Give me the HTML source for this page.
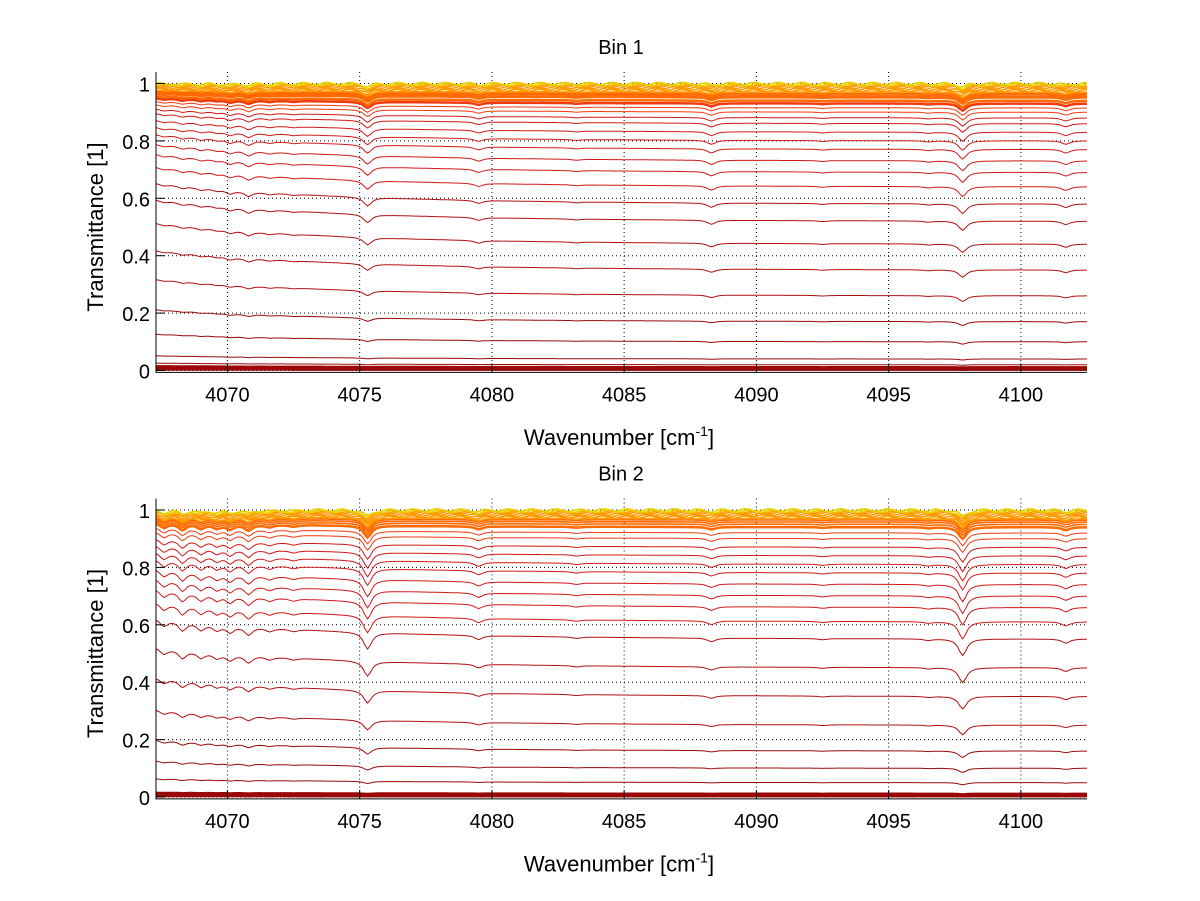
<!DOCTYPE html>
<html><head><meta charset="utf-8">
<style>
html,body{margin:0;padding:0;background:#fff;}
svg{display:block;font-family:"Liberation Sans",sans-serif;}
</style></head>
<body>
<svg id="fig" width="1200" height="901" viewBox="0 0 1200 901" xmlns="http://www.w3.org/2000/svg"></svg>
<script>
// ---- data ----
const xTicks = [4070, 4075, 4080, 4085, 4090, 4095, 4100];
const yTicks = [0, 0.2, 0.4, 0.6, 0.8, 1];
const yTickLabels = ["0", "0.2", "0.4", "0.6", "0.8", "1"];
const titles = ["Bin 1", "Bin 2"];
// baseline transmittance of each spectrum at the right end
const baselines1 = [0.002,0.005,0.008,0.012,0.02,0.04,0.1,0.17,0.26,0.35,0.44,0.52,0.58,0.64,0.69,0.73,0.77,0.80,0.83,0.86,0.88,0.90,0.915,0.93,0.94,0.95,0.955,0.96,0.965,0.97,0.975,0.98,0.985,0.99,0.993,0.996,1.0];
const baselines2 = [0.002,0.005,0.008,0.012,0.05,0.1,0.16,0.25,0.35,0.45,0.55,0.61,0.66,0.7,0.74,0.78,0.81,0.84,0.87,0.9,0.92,0.94,0.95,0.958,0.965,0.97,0.975,0.98,0.985,0.99,0.993,0.996,1.0];
// absorption line centres (cm-1) and relative strengths
const lineCenters = [4067.6,4068.3,4069.0,4069.6,4070.1,4070.8,4071.6,4072.5,4075.3,4079.5,4083.2,4088.3,4092.5,4096.5,4097.8,4101.7];
const strength1 = [0.015,0.02,0.02,0.015,0.03,0.04,0.015,0.01,0.07,0.025,0.008,0.035,0.008,0.01,0.08,0.03];
const strength2 = [0.06,0.08,0.06,0.05,0.06,0.07,0.03,0.02,0.14,0.035,0.012,0.03,0.01,0.012,0.14,0.035];
const xMin = 4067.3, xMax = 4102.5, yMin = -0.005, yMax = 1.04;

const NS = "http://www.w3.org/2000/svg";
const svg = document.getElementById("fig");
function mk(tag, attrs, parent){
  const e = document.createElementNS(NS, tag);
  for (const k in attrs) e.setAttribute(k, attrs[k]);
  (parent||svg).appendChild(e); return e;
}
function colorFor(b){
  if (b >= 0.995) return "#e8d000";
  if (b >= 0.97) return "#ff9a00";
  if (b >= 0.94) return "#ff6a00";
  if (b >= 0.9) return "#f03a10";
  if (b >= 0.6) return "#d01818";
  if (b >= 0.2) return "#b01010";
  return "#9a0808";
}
function panel(idx, top, baselines, strength){
  const L = 156, R = 1087, y0 = 370.5 + (top), y1 = 83.5 + (top);
  const sx = v => L + (v - xMin) / (xMax - xMin) * (R - L);
  const sy = v => y0 - (v - 0) * (y0 - y1);
  const g = mk("g", {});
  
  
  const axBottom = sy(yMin) + 0.5, axTop = sy(yMax);
  xTicks.forEach(t => {
    const l = mk("line", {x1:sx(t), x2:sx(t), y1:axTop, y2:axBottom, stroke:"#000", "stroke-width":1, "stroke-dasharray":"1,3"}, g);
    
    
  });
  yTicks.forEach(t => {
    const l = mk("line", {x1:L, x2:R, y1:sy(t), y2:sy(t), stroke:"#000", "stroke-width":1, "stroke-dasharray":"1,3"}, g);
    
    
  });
  baselines.forEach((b, i) => {
    let pts = [];
    const tilt = 0.3 * b * (1 - b);
    const dscale = Math.max(0, b * Math.sqrt(1 - b + 0.02)) * 1.1;
    for (let x = xMin; x <= xMax + 1e-9; x += 0.1) {
      let v = b + tilt * Math.exp(-(x - xMin) / 7);
      let dip = 0;
      lineCenters.forEach((c, k) => {
        const w = 0.18;
        dip += strength[k] / (1 + ((x - c) / w) ** 2);
      });
      v -= dip * dscale;
      if (b > 0.97) v += 0.004 * Math.sin(x * 7 + i);
      pts.push(sx(x).toFixed(1) + "," + sy(Math.min(v, 1.03)).toFixed(1));
    }
    let w = 1;
    if (b <= 0.012) w = 2;
    else if (Math.abs(b - 0.93) < 0.001 || Math.abs(b - 0.94) < 0.001) w = 2.5;
    else if (b > 0.94) w = 1.6;
    const p = mk("polyline", {points: pts.join(" "), fill:"none", stroke: colorFor(b), "stroke-width": w}, g);
    
    
  });
  const ax = mk("path", {d:`M${L},${axTop} L${L},${axBottom} L${R},${axBottom}`, fill:"none", stroke:"#000", "stroke-width":1}, g);
  
  
  xTicks.forEach(t => {
    mk("line", {x1:sx(t), x2:sx(t), y1:axBottom, y2:axBottom-9, stroke:"#000"}, g);
    const tx = mk("text", {x:sx(t), y:axBottom+29, "text-anchor":"middle", "font-size":20}, g);
    tx.textContent = String(t);
    
    
  });
  yTicks.forEach((t, k) => {
    mk("line", {x1:L, x2:L+9, y1:sy(t), y2:sy(t), stroke:"#000"}, g);
    const tx = mk("text", {x:L-6, y:sy(t)+8, "text-anchor":"end", "font-size":20}, g);
    tx.textContent = yTickLabels[k];
    
    
  });
  const ti = mk("text", {x:621, y:54 + top, "text-anchor":"middle", "font-size":20}, g);
  ti.textContent = titles[idx];
  
  
  const xl = mk("text", {x:619, y:445 + top, "text-anchor":"middle", "font-size":22}, g);
  xl.innerHTML = 'Wavenumber [cm<tspan dy="-9" font-size="14">-1</tspan><tspan dy="9">]</tspan>';
  
  
  const yl = mk("text", {x:0, y:0, "text-anchor":"middle", "font-size":22, transform:`translate(103,${227+top}) rotate(-90)`}, g);
  yl.textContent = "Transmittance [1]";
  
  
}
panel(0, 0, baselines1, strength1);
panel(1, 426.5, baselines2, strength2);
</script>
</body></html>
